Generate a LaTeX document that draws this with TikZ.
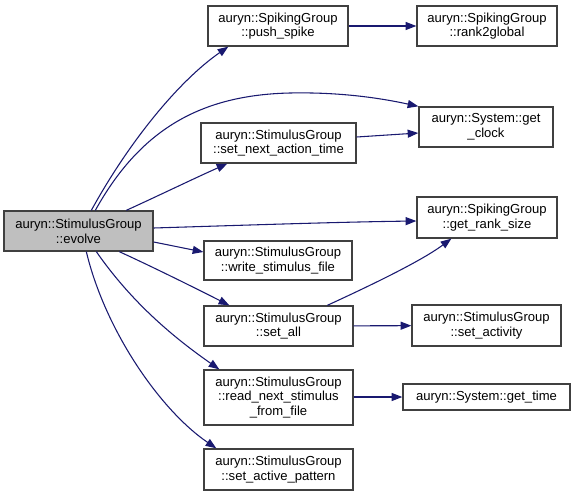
\documentclass[tikz,border=0pt]{standalone}
\usepackage{fontspec}
\setmainfont{Liberation Sans}
\usetikzlibrary{arrows.meta,calc}
\definecolor{edgec}{HTML}{191970}
\definecolor{boxc}{HTML}{404040}
\definecolor{evfill}{HTML}{BFBFBF}
\newcommand\dbox[7][]{\node[box,#1,minimum width={(#5-#3)*0.75pt},minimum height={(#6-#4)*0.75pt}] (#2) at ({(#3+#5)/2},{(#4+#6)/2}) {#7};}
\begin{document}
\begin{tikzpicture}[x=0.75pt,y=-0.75pt,
 box/.style={draw=boxc,line width=1pt,fill=white,inner sep=0pt,align=center,font=\fontsize{9.8}{11}\selectfont},
 edge/.style={draw=edgec,line width=0.8pt,-{Triangle[length=8pt,width=6pt]}}]
\fill[white] (0,0) rectangle (575,496);
\useasboundingbox (0,0) rectangle (575,496);
\dbox[fill=evfill]{evolve}{4}{211}{153}{251}{auryn::StimulusGroup\\::evolve}
\dbox{push}{208}{6}{348}{46}{auryn::SpikingGroup\\::push\_spike}
\dbox{rank}{417}{6}{557}{46}{auryn::SpikingGroup\\::rank2global}
\dbox{clock}{419}{107}{553}{147}{auryn::System::get\\\_clock}
\dbox{setnext}{201}{123}{356}{163}{auryn::StimulusGroup\\::set\_next\_action\_time}
\dbox{ranksize}{417}{197}{557}{238}{auryn::SpikingGroup\\::get\_rank\_size}
\dbox{write}{204}{241}{352}{280}{auryn::StimulusGroup\\::write\_stimulus\_file}
\dbox{setall}{204}{306}{353}{346}{auryn::StimulusGroup\\::set\_all}
\dbox{activity}{412}{305}{561}{346}{auryn::StimulusGroup\\::set\_activity}
\dbox{readnext}{204}{370}{353}{425}{auryn::StimulusGroup\\::read\_next\_stimulus\\\_from\_file}
\dbox{time}{403}{384}{570}{410}{auryn::System::get\_time}
\dbox{pattern}{204}{449}{353}{490}{auryn::StimulusGroup\\::set\_active\_pattern}
% edges
\draw[edge] ($(evolve.north west)+(88,0)$) .. controls (130,140) and (180,80) .. ($(push.south west)+(21,0)$);
\draw[edge] ($(evolve.north west)+(92,0)$) .. controls (140,130) and (200,95) .. (290,93) .. controls (340,92) and (380,98) .. (clock.north west);
\draw[edge] ($(setnext.east)+(0,-6)$) -- ($(clock.west)+(0,6)$);
\draw[edge] ($(evolve.north west)+(123,0)$) .. controls (160,195) and (195,178) .. ($(setnext.south west)+(27,0)$);
\draw[edge] ($(evolve.east)+(0,-3)$) .. controls (250,225) and (340,222) .. ($(ranksize.west)+(0,3.5)$);
\draw[edge] ($(evolve.east)+(0,11)$) -- ($(write.west)+(0,-8.5)$);
\draw[edge] ($(evolve.south west)+(116,0)$) .. controls (155,268) and (195,288) .. ($(setall.north west)+(26,0)$);
\draw[edge] ($(evolve.south west)+(93,0)$) .. controls (130,300) and (170,335) .. ($(readnext.north west)+(16,0)$);
\draw[edge] ($(evolve.south west)+(83,0)$) .. controls (105,330) and (160,410) .. ($(pattern.north west)+(13,0)$);
\draw[edge] (push) -- (rank);
\draw[edge] ($(setall.north west)+(124,0)$) .. controls (365,288) and (420,262) .. ($(ranksize.south west)+(35,0)$);
\draw[edge] (setall) -- (activity);
\draw[edge] (readnext.east |- time.west) -- (time.west);
\end{tikzpicture}
\end{document}
